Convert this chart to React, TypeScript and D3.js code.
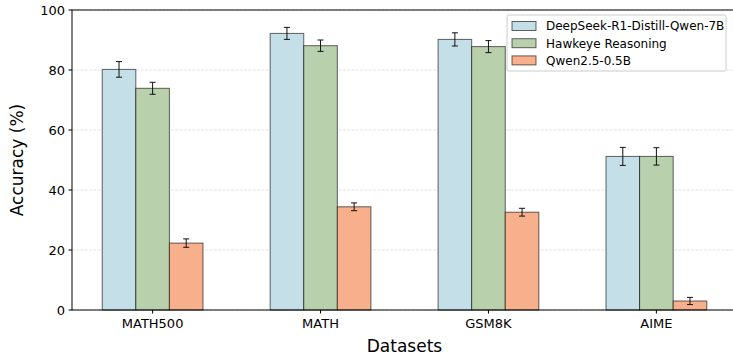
import React, { useEffect, useRef } from 'react';
import * as d3 from 'd3';

const datasets = ['MATH500', 'MATH', 'GSM8K', 'AIME'];
const seriesNames = ['DeepSeek-R1-Distill-Qwen-7B', 'Hawkeye Reasoning', 'Qwen2.5-0.5B'];
const deepseekAcc = [80.2, 92.2, 90.2, 51.2];
const deepseekErr = [2.6, 2.0, 2.2, 3.0];
const hawkeyeAcc = [73.9, 88.1, 87.8, 51.2];
const hawkeyeErr = [2.0, 1.9, 2.0, 2.9];
const qwenAcc = [22.3, 34.4, 32.6, 3.0];
const qwenErr = [1.4, 1.3, 1.3, 1.2];
const yTicks = [0, 20, 40, 60, 80, 100];
const seriesColors = ['#c5dfe9', '#b9d0ad', '#f8b08c'];

const W = 733;
const H = 356;
const FONT = 'DejaVu Sans, sans-serif';

const App = () => {
  const svgRef = useRef<SVGSVGElement | null>(null);

  useEffect(() => {
    const svg = d3.select(svgRef.current);
    svg.selectAll('*').remove();

    const left = 72, right = 737, top = 10, bottom = 310;
    const barW = 0.2;
    const values = [deepseekAcc, hawkeyeAcc, qwenAcc];
    const errors = [deepseekErr, hawkeyeErr, qwenErr];

    const x = d3.scaleLinear().domain([-0.48, 3.48]).range([left, right]);
    const y = d3.scaleLinear().domain([0, 100]).range([bottom, top]);

    // grid
    svg.append('g')
      .selectAll('line')
      .data(yTicks)
      .enter()
      .append('line')
      .attr('x1', left)
      .attr('x2', right)
      .attr('y1', d => y(d))
      .attr('y2', d => y(d))
      .attr('stroke', '#b0b0b0')
      .attr('stroke-opacity', 0.45)
      .attr('stroke-width', 0.8)
      .attr('stroke-dasharray', '3,1.3');

    // bars
    values.forEach((vals, s) => {
      const offset = (s - 1) * barW;
      const g = svg.append('g');
      g.selectAll('rect')
        .data(vals)
        .enter()
        .append('rect')
        .attr('x', (d, i) => x(i + offset - barW / 2))
        .attr('y', d => y(d))
        .attr('width', x(barW) - x(0))
        .attr('height', d => y(0) - y(d))
        .attr('fill', seriesColors[s])
        .attr('stroke', '#000')
        .attr('stroke-opacity', 0.6)
        .attr('stroke-width', 1);

      // error bars
      const eb = svg.append('g').attr('stroke', '#111').attr('stroke-width', 1);
      vals.forEach((v, i) => {
        const cx = x(i + offset);
        const e = errors[s][i];
        eb.append('line').attr('x1', cx).attr('x2', cx).attr('y1', y(v - e)).attr('y2', y(v + e));
        eb.append('line').attr('x1', cx - 3).attr('x2', cx + 3).attr('y1', y(v - e)).attr('y2', y(v - e));
        eb.append('line').attr('x1', cx - 3).attr('x2', cx + 3).attr('y1', y(v + e)).attr('y2', y(v + e));
      });
    });

    // spines
    svg.append('rect')
      .attr('x', left)
      .attr('y', top)
      .attr('width', right - left)
      .attr('height', bottom - top)
      .attr('fill', 'none')
      .attr('stroke', '#000')
      .attr('stroke-width', 1);

    // y axis
    const yAxis = svg.append('g');
    yTicks.forEach(t => {
      yAxis.append('line')
        .attr('x1', left - 3.5).attr('x2', left)
        .attr('y1', y(t)).attr('y2', y(t))
        .attr('stroke', '#000');
      yAxis.append('text')
        .attr('x', left - 7)
        .attr('y', y(t))
        .attr('dy', '0.36em')
        .attr('text-anchor', 'end')
        .attr('font-family', FONT)
        .attr('font-size', 13)
        .attr('fill', '#000')
        .text(t);
    });

    // x axis
    const xAxis = svg.append('g');
    datasets.forEach((d, i) => {
      xAxis.append('line')
        .attr('x1', x(i)).attr('x2', x(i))
        .attr('y1', bottom).attr('y2', bottom + 3.5)
        .attr('stroke', '#000');
      xAxis.append('text')
        .attr('x', x(i))
        .attr('y', bottom + 18)
        .attr('text-anchor', 'middle')
        .attr('font-family', FONT)
        .attr('font-size', 13)
        .attr('fill', '#000')
        .text(d);
    });

    // axis labels
    svg.append('text')
      .attr('x', (left + right) / 2)
      .attr('y', 352)
      .attr('text-anchor', 'middle')
      .attr('font-family', FONT)
      .attr('font-size', 17)
      .text('Datasets');

    svg.append('text')
      .attr('transform', `translate(23,${(top + bottom) / 2}) rotate(-90)`)
      .attr('text-anchor', 'middle')
      .attr('font-family', FONT)
      .attr('font-size', 17)
      .text('Accuracy (%)');

    // legend
    const lg = svg.append('g');
    lg.append('rect')
      .attr('x', 507)
      .attr('y', 15)
      .attr('width', 219)
      .attr('height', 56)
      .attr('rx', 1.5)
      .attr('fill', '#fff')
      .attr('fill-opacity', 0.85)
      .attr('stroke', '#cccccc')
      .attr('stroke-width', 1);
    seriesNames.forEach((name, s) => {
      const cy = 26 + s * 17.2;
      lg.append('rect')
        .attr('x', 512)
        .attr('y', cy - 4.5)
        .attr('width', 24)
        .attr('height', 9)
        .attr('fill', seriesColors[s])
        .attr('stroke', '#000')
        .attr('stroke-opacity', 0.6);
      lg.append('text')
        .attr('x', 546)
        .attr('y', cy)
        .attr('dy', '0.36em')
        .attr('font-family', FONT)
        .attr('font-size', 12)
        .attr('fill', '#000')
        .text(name);
    });
  }, []);

  return (
    <svg
      ref={svgRef}
      width={W}
      height={H}
      style={{ position: 'absolute', left: 0, top: 0, background: '#fff' }}
    />
  );
};

export default App;
